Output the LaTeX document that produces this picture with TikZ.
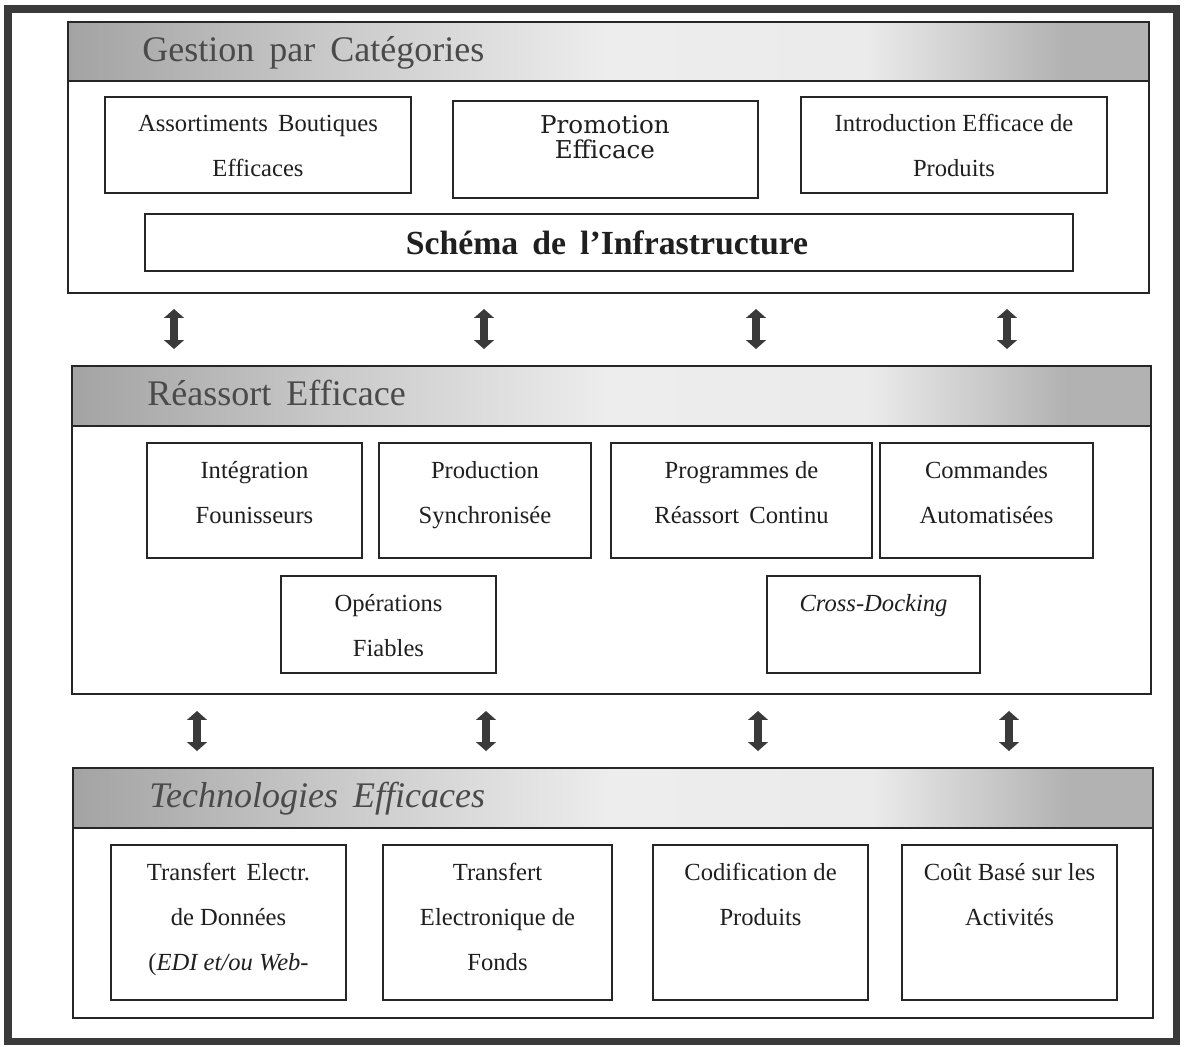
\documentclass[tikz,border=0pt]{standalone}
\usepackage{fontspec}
\setmainfont{Liberation Serif}
\newfontfamily\dvs{DejaVu Serif}
\usetikzlibrary{fit,arrows.meta}
\definecolor{frm}{HTML}{3A3A3A}
\definecolor{ln}{HTML}{262626}
\definecolor{ttlc}{HTML}{4A4A4A}
\definecolor{hA}{gray}{0.64}
\definecolor{hB}{gray}{0.80}
\definecolor{hC}{gray}{0.93}
\definecolor{hD}{gray}{0.92}
\definecolor{hE}{gray}{0.70}
\pgfdeclarehorizontalshading{hdrshade}{100bp}{color(0bp)=(hA); color(25bp)=(hA); color(38bp)=(hB); color(50bp)=(hC); color(62bp)=(hD); color(71bp)=(hE); color(75bp)=(hE); color(100bp)=(hE)}
\tikzset{
  sect/.style={draw=ln, line width=1.4pt, inner sep=0pt},
  hdr/.style={draw=ln, line width=1.4pt, inner sep=0pt, shade, shading=hdrshade},
  box/.style={draw=ln, line width=1.1pt, inner sep=0pt},
  txt/.style={anchor=base, align=center, inner sep=0pt, text=black!88, font=\fontsize{14}{25.5}\selectfont},
  ttl/.style={anchor=base west, inner sep=0pt, text=ttlc, font=\fontsize{20.5}{24}\selectfont},
  promo/.style={txt, font=\dvs\fontsize{14}{14.2}\selectfont},
  schema/.style={txt, font=\bfseries\fontsize{19.2}{20}\selectfont},
  dbl/.style={line width=4.5pt, draw=frm, {Triangle[width=11pt,length=5pt]}-{Triangle[width=11pt,length=5pt]}},
  frame/.style={draw=frm, line width=4pt}
}
\begin{document}
\begin{tikzpicture}[x=0.02cm,y=-0.02cm]
\useasboundingbox (0,0) rectangle (1185,1046);
\fill[white] (0,0) rectangle (1185,1046);
\node[frame, inner sep=0pt, fit={(8,9) (1176,1041)}] (outer) {};

% ---------- Section 1
\node[sect, fit={(68,22) (1149,293)}] (s1) {};
\node[hdr, fit={(68,22) (1149,81)}] (h1) {};
\node[ttl] (t1) at (142,61) {Gestion\, par\, Catégories};
\node[box, fit={(105,97) (411,193)}] (b11) {};
\node[txt] (x11) at (258,176) {Assortiments\, Boutiques\\Efficaces};
\node[box, fit={(453,101) (758,198)}] (b12) {};
\node[promo] (x12) at (605,158) {Promotion\\Efficace};
\node[box, fit={(801,97) (1107,193)}] (b13) {};
\node[txt] (x13) at (954,176) {Introduction Efficace de\\Produits};
\node[box, fit={(145,214) (1073,271)}] (b14) {};
\node[schema] (x14) at (607,254) {Schéma\, de\, l’Infrastructure};

% ---------- Section 2
\node[sect, fit={(72,366) (1151,694)}] (s2) {};
\node[hdr, fit={(72,366) (1151,426)}] (h2) {};
\node[ttl] (t2) at (147,405) {Réassort\, Efficace};
\node[box, fit={(147,443) (362,558)}] (b21) {};
\node[txt] (x21) at (254.5,523) {Intégration\\Founisseurs};
\node[box, fit={(379,443) (591,558)}] (b22) {};
\node[txt] (x22) at (485,523) {Production\\Synchronisée};
\node[box, fit={(611,443) (872,558)}] (b23) {};
\node[txt] (x23) at (741.5,523) {Programmes de\\Réassort\, Continu};
\node[box, fit={(880,443) (1093,558)}] (b24) {};
\node[txt] (x24) at (986.5,523) {Commandes\\Automatisées};
\node[box, fit={(281,576) (496,673)}] (b25) {};
\node[txt] (x25) at (388.5,656) {Opérations\\Fiables};
\node[box, fit={(767,576) (980,673)}] (b26) {};
\node[txt] (x26) at (873.5,611) {\textit{Cross-Docking}};

% ---------- Section 3
\node[sect, fit={(73,768) (1153,1018)}] (s3) {};
\node[hdr, fit={(73,768) (1153,828)}] (h3) {};
\node[ttl] (t3) at (149,807) {\textit{Technologies\, Efficaces}};
\node[box, fit={(111,845) (346,1000)}] (b31) {};
\node[txt] (x31) at (228.5,970) {Transfert\, Electr.\\de Données\\(\textit{EDI et/ou Web-}};
\node[box, fit={(383,845) (612,1000)}] (b32) {};
\node[txt] (x32) at (497.5,970) {Transfert\\Electronique de\\Fonds};
\node[box, fit={(653,845) (868,1000)}] (b33) {};
\node[txt] (x33) at (760.5,925) {Codification de\\Produits};
\node[box, fit={(902,845) (1117,1000)}] (b34) {};
\node[txt] (x34) at (1009.5,925) {Coût Basé sur les\\Activités};

% ---------- Arrows between sections
\foreach \i/\x in {1/174,2/484,3/756,4/1007}{
  \coordinate (u\i) at (\x,309);
  \coordinate (d\i) at (\x,349);
  \draw[dbl] (u\i) -- (d\i);
}
\foreach \i/\x in {1/197,2/486,3/758,4/1009}{
  \coordinate (p\i) at (\x,711);
  \coordinate (q\i) at (\x,751);
  \draw[dbl] (p\i) -- (q\i);
}
\end{tikzpicture}
\end{document}
